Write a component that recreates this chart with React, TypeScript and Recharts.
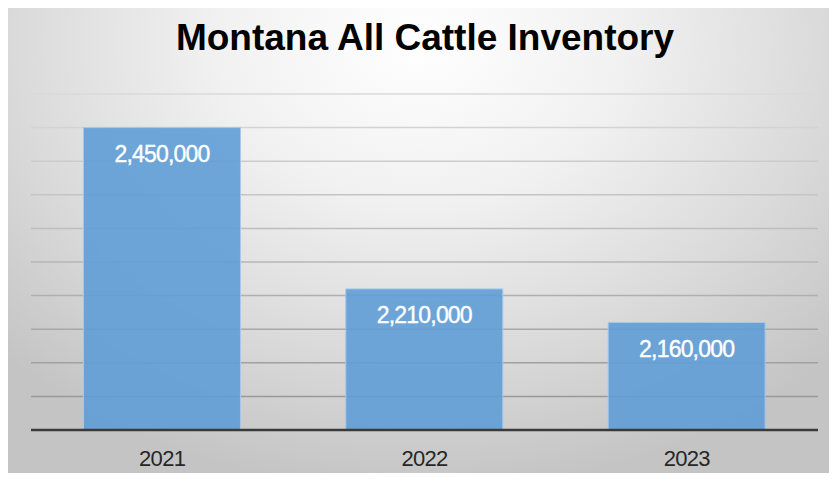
import { BarChart, Bar, XAxis, YAxis, CartesianGrid, LabelList } from 'recharts';

const years = ['2021', '2022', '2023'];
const headCount = [2450000, 2210000, 2160000];
const yTicks = [2000000, 2050000, 2100000, 2150000, 2200000, 2250000, 2300000, 2350000, 2400000, 2450000, 2500000];

const chartData = years.map((year, i) => ({ year, head: headCount[i] }));
const fmt = (v: number) => v.toLocaleString('en-US');

export default function App() {
  return (
    <div style={{ position: 'relative', width: 837, height: 481, margin: -8, fontFamily: '"Liberation Sans", Arial, sans-serif' }}>
      <div
        style={{
          position: 'absolute', left: 4, top: 4, width: 828, height: 473,
          border: '1px solid #b8b8b8',
          background: 'radial-gradient(ellipse 70% 95% at 50% 8%, #ffffff 0%, #f1f1f1 35%, #dadada 70%, #c4c4c4 100%)',
        }}
      />
      <div style={{ position: 'absolute', left: 0, top: 19, width: 850, textAlign: 'center', fontSize: 37, lineHeight: '37px', fontWeight: 'bold', color: '#000' }}>
        Montana All Cattle Inventory
      </div>
      <div style={{ position: 'absolute', left: 0, top: 0 }}>
        <BarChart width={837} height={481} data={chartData} margin={{ top: 94, right: 19, bottom: 21, left: 31 }} barCategoryGap="20%">
          <defs>
            <linearGradient id="gridFade" gradientUnits="userSpaceOnUse" x1="0" y1="94" x2="0" y2="430">
              <stop offset="0%" stopColor="#dadada" />
              <stop offset="100%" stopColor="#929292" />
            </linearGradient>
          </defs>
          <CartesianGrid vertical={false} stroke="url(#gridFade)" strokeWidth={1.5} />
          <YAxis hide domain={[2000000, 2500000]} ticks={yTicks} allowDataOverflow />
          <XAxis
            dataKey="year"
            height={30}
            tickLine={false}
            tickMargin={14}
            axisLine={{ stroke: '#3a3a3a', strokeWidth: 2.5 }}
            tick={{ fontSize: 22, fill: '#262626', letterSpacing: -0.7 }}
          />
          <Bar dataKey="head" fill="#5f9dd6" fillOpacity={0.9} stroke="#a8c8e8" strokeWidth={1} isAnimationActive={false}>
            <LabelList
              dataKey="head"
              position="insideTop"
              offset={18}
              formatter={fmt}
              style={{ fill: '#ffffff', stroke: '#ffffff', strokeWidth: 0.4, fontSize: 23, letterSpacing: -0.8 }}
            />
          </Bar>
        </BarChart>
      </div>
    </div>
  );
}
